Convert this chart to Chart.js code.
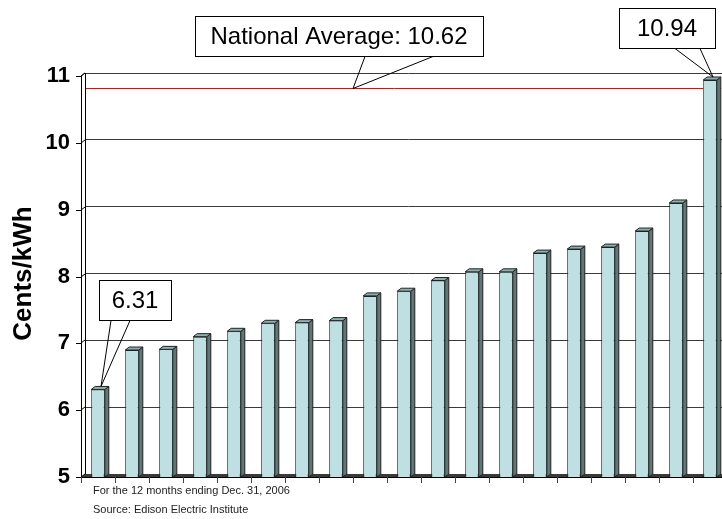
<!DOCTYPE html>
<html><head><meta charset="utf-8">
<script src="https://cdn.jsdelivr.net/npm/chart.js@4"></script>
<style>
html,body{margin:0;padding:0;overflow:hidden;background:#fff}
#wrap{position:relative;width:740px;height:519px}
</style>
</head><body>
<div id="wrap"><canvas id="c"></canvas></div>
<script>
// ---- data ----
const categories = ['1','2','3','4','5','6','7','8','9','10','11','12','13','14','15','16','17','18','19'];
const centsPerKWh = [6.31, 6.90, 6.91, 7.10, 7.18, 7.30, 7.31, 7.34, 7.71, 7.78, 7.94, 8.07, 8.07, 8.35, 8.41, 8.44, 8.68, 9.10, 10.94];
const yMin = 5, yMax = 11, yStep = 1;
const yTitle = 'Cents/kWh';
const nationalAverageText = 'National Average: 10.62';
const nationalAverageLine = 10.78;
const lowText = '6.31';
const highText = '10.94';
const footnotes = ['For the 12 months ending Dec. 31, 2006', 'Source: Edison Electric Institute'];

// ---- style ----
const FONT = '"Liberation Sans", Arial, Helvetica, sans-serif';
const DX = 4, DY = 3; // 3D depth offset
const FRONT = '#BEE0E3', SIDE = '#5E7777', TOP = '#8FAFAF', EDGE = '#222';
const RED = '#FF0000';

function line(ctx, x1, y1, x2, y2) { ctx.beginPath(); ctx.moveTo(x1, y1); ctx.lineTo(x2, y2); ctx.stroke(); }

function callout(ctx, box, text, baseL, baseR, tip) {
  ctx.save();
  ctx.fillStyle = '#fff';
  ctx.strokeStyle = '#000';
  ctx.lineWidth = 1;
  ctx.fillRect(box.x, box.y, box.w, box.h);
  ctx.strokeRect(box.x + 0.5, box.y + 0.5, box.w, box.h);
  line(ctx, baseL, box.y + box.h + 0.5, tip.x, tip.y);
  line(ctx, baseR, box.y + box.h + 0.5, tip.x, tip.y);
  ctx.fillStyle = '#000';
  ctx.font = '24px ' + FONT;
  ctx.textAlign = 'center';
  ctx.textBaseline = 'middle';
  ctx.fillText(text, box.x + box.w / 2, box.y + box.h / 2 + 1);
  ctx.restore();
}

const deco = {
  id: 'deco',
  beforeDatasetsDraw(chart) {
    const {ctx, chartArea: a, scales: {x, y}} = chart;
    ctx.save();
    // floor
    const b = Math.round(a.bottom);
    ctx.fillStyle = '#3a3a3a';
    ctx.beginPath();
    ctx.moveTo(a.left - DX, b + DY); ctx.lineTo(a.left, b); ctx.lineTo(a.right + 20, b); ctx.lineTo(a.right + 20, b + DY);
    ctx.closePath(); ctx.fill();
    ctx.strokeStyle = '#000';
    ctx.lineWidth = 1;
    line(ctx, a.left - DX, b + DY + 0.5, a.right + 20, b + DY + 0.5);
    // left wall
    const t = Math.round(a.top);
    ctx.fillStyle = '#fff';
    ctx.beginPath();
    ctx.moveTo(a.left - DX, t + DY); ctx.lineTo(a.left, t); ctx.lineTo(a.left, b); ctx.lineTo(a.left - DX, b + DY);
    ctx.closePath(); ctx.fill();
    ctx.strokeStyle = '#000';
    line(ctx, a.left - DX + 0.5, t + DY, a.left - DX + 0.5, b + DY);
    line(ctx, a.left + 0.5, t, a.left + 0.5, b);
    line(ctx, a.left - DX, t + DY, a.left, t);
    // y tick marks on front plane
    y.ticks.forEach(tk => {
      const py = Math.round(y.getPixelForValue(tk.value));
      line(ctx, a.left - DX - 5, py + DY + 0.5, a.left - DX, py + DY + 0.5);
      line(ctx, a.left - DX, py + DY, a.left, py);
    });
    // x tick marks at category boundaries on front plane
    const n = categories.length;
    const half = (x.getPixelForValue(1) - x.getPixelForValue(0)) / 2;
    ctx.strokeStyle = '#444';
    for (let i = 0; i <= n; i++) {
      const px = Math.round(x.getPixelForValue(i) - half - DX) + 0.5;
      line(ctx, px, b + DY, px, b + DY + 6);
    }
    ctx.restore();
  },
  beforeDatasetDraw(chart) {
    chart.ctx.save();
    chart.ctx.translate(-DX, DY);
  },
  afterDatasetDraw(chart, args) {
    const {ctx, scales: {y}} = chart;
    const meta = chart.getDatasetMeta(args.index);
    meta.data.forEach(el => {
      const l = el.x - el.width / 2, r = el.x + el.width / 2, top = el.y;
      const base = Math.min(el.base, y.bottom);
      ctx.lineWidth = 1;
      ctx.strokeStyle = EDGE;
      // side face
      ctx.fillStyle = SIDE;
      ctx.beginPath();
      ctx.moveTo(r, top); ctx.lineTo(r + DX, top - DY); ctx.lineTo(r + DX, base - DY); ctx.lineTo(r, base);
      ctx.closePath(); ctx.fill(); ctx.stroke();
      // top face
      ctx.fillStyle = TOP;
      ctx.beginPath();
      ctx.moveTo(l, top); ctx.lineTo(l + DX, top - DY); ctx.lineTo(r + DX, top - DY); ctx.lineTo(r, top);
      ctx.closePath(); ctx.fill(); ctx.stroke();
    });
    ctx.restore();
  },
  afterDatasetsDraw(chart) {
    const {ctx, chartArea: a, scales: {y}} = chart;
    const els = chart.getDatasetMeta(0).data;
    const first = els[0], last = els[els.length - 1];
    // national average line on the back wall, passing behind any bar taller than it
    const ry = Math.round(y.getPixelForValue(nationalAverageLine));
    ctx.save();
    ctx.strokeStyle = RED;
    ctx.lineWidth = 1;
    let xs = a.left + 1;
    els.forEach((el, i) => {
      if (centsPerKWh[i] > nationalAverageLine) {
        const l = el.x - el.width / 2 - DX;
        line(ctx, xs, ry + 0.5, l, ry + 0.5);
        xs = el.x + el.width / 2 + 1;
      }
    });
    if (xs < a.right) line(ctx, xs, ry + 0.5, a.right, ry + 0.5);
    ctx.restore();

    const tipOf = el => ({x: el.x - DX + 3, y: el.y + DY - 3});
    callout(ctx, {x: 195, y: 16, w: 288, h: 40}, nationalAverageText, 365, 433, {x: 353, y: ry + 0.5});
    callout(ctx, {x: 619, y: 8, w: 96, h: 40}, highText, 675, 700, tipOf(last));
    callout(ctx, {x: 99, y: 280, w: 72, h: 40}, lowText, 111, 130, tipOf(first));
    ctx.save();
    ctx.fillStyle = '#222';
    ctx.font = '11px ' + FONT;
    ctx.textAlign = 'left';
    ctx.textBaseline = 'middle';
    ctx.fillText(footnotes[0], 93, 491);
    ctx.fillText(footnotes[1], 93, 510);
    ctx.restore();
  }
};

new Chart(document.getElementById('c'), {
  type: 'bar',
  data: {
    labels: categories,
    datasets: [{
      data: centsPerKWh,
      backgroundColor: FRONT,
      borderColor: EDGE,
      borderWidth: 1,
      barPercentage: 0.4,
      categoryPercentage: 1
    }]
  },
  options: {
    responsive: true,
    maintainAspectRatio: false,
    animation: false,
    devicePixelRatio: 1,
    layout: {padding: {top: 73, right: 9, bottom: 45, left: 0}},
    plugins: {legend: {display: false}, tooltip: {enabled: false}},
    scales: {
      x: {
        offset: true,
        grid: {display: false},
        border: {display: false},
        ticks: {display: false},
        afterFit(s) { s.height = 0; }
      },
      y: {
        min: yMin, max: yMax,
        ticks: {stepSize: yStep, padding: 15, labelOffset: 3, color: '#000', font: {family: FONT, size: 22, weight: 'bold'}},
        grid: {color: '#3a3a3a', lineWidth: 1, drawTicks: false},
        border: {display: true, color: '#000'},
        title: {display: true, text: yTitle, color: '#000', font: {family: FONT, size: 26, weight: 'bold'}, padding: {top: 8, bottom: 0}},
        afterFit(s) { s.width = 85; }
      }
    }
  },
  plugins: [deco]
});
</script>
</body></html>
